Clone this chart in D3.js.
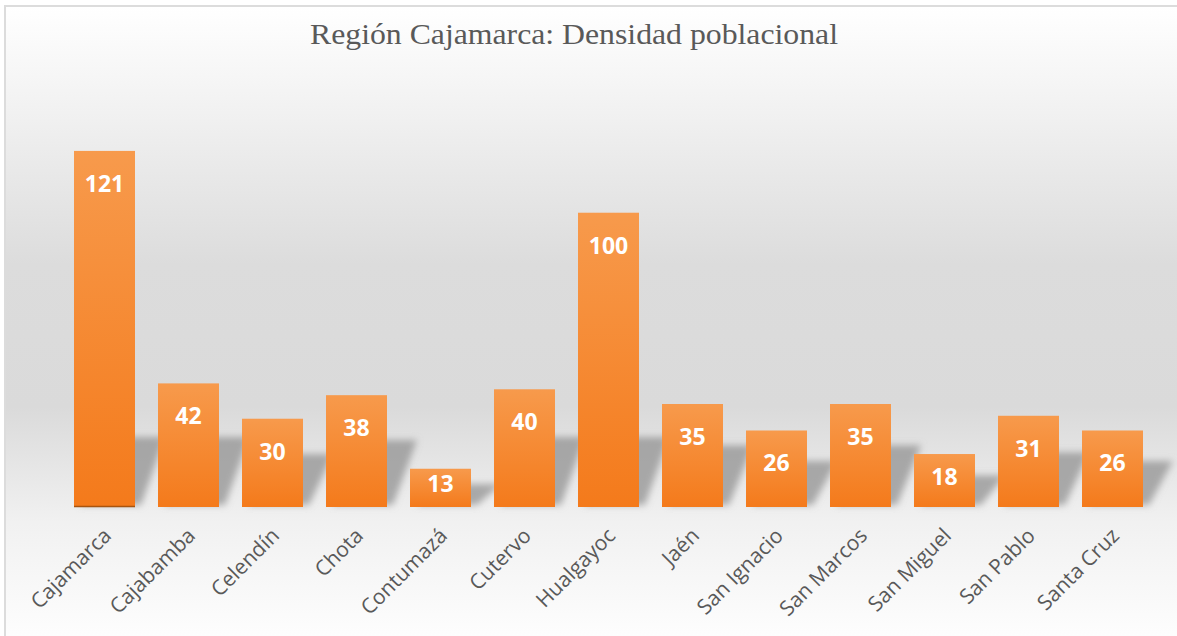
<!DOCTYPE html>
<html>
<head>
<meta charset="utf-8">
<script src="https://cdn.jsdelivr.net/npm/d3@7"></script>
<style>
  body { margin: 0; background: #fff; }
</style>
</head>
<body>
<script>
const provincias = ["Cajamarca", "Cajabamba", "Celendín", "Chota", "Contumazá", "Cutervo",
  "Hualgayoc", "Jaén", "San Ignacio", "San Marcos", "San Miguel", "San Pablo", "Santa Cruz"];
const densidad = [121, 42, 30, 38, 13, 40, 100, 35, 26, 35, 18, 31, 26];
const titulo = "Región Cajamarca: Densidad poblacional";

function main() {
    const W = 1177, H = 636;
    const data = provincias.map((p, i) => ({ name: p, value: densidad[i] }));

    let svg = d3.select("body").append("svg")
        .attr("width", W)
        .attr("height", H);

    let defs = svg.append("defs");

    // background gradient: white -> grey -> white
    let bg = defs.append("linearGradient").attr("id", "bg")
        .attr("x1", 0).attr("y1", 0).attr("x2", 0).attr("y2", 1);
    [[0, "#ffffff"], [0.12, "#f5f5f5"], [0.4, "#dcdcdc"], [0.62, "#dadada"], [0.8, "#f1f1f1"], [1, "#ffffff"]]
        .forEach(s => bg.append("stop").attr("offset", s[0]).attr("stop-color", s[1]));

    let barGrad = defs.append("linearGradient").attr("id", "bar")
        .attr("x1", 0).attr("y1", 0).attr("x2", 0).attr("y2", 1);
    barGrad.append("stop").attr("offset", 0).attr("stop-color", "#f79a4c");
    barGrad.append("stop").attr("offset", 1).attr("stop-color", "#f47a1b");

    defs.append("filter").attr("id", "blur")
        .attr("x", "-50%").attr("y", "-50%").attr("width", "200%").attr("height", "200%")
        .append("feGaussianBlur").attr("stdDeviation", 3.5);

    svg.append("rect")
        .attr("x", 5).attr("y", 6)
        .attr("width", W + 10).attr("height", H + 10)
        .attr("fill", "url(#bg)")
        .attr("stroke", "#dcdcdc")
        .attr("stroke-width", 2);

    svg.append("text")
        .attr("x", 574)
        .attr("y", 44)
        .attr("text-anchor", "middle")
        .attr("textLength", 528)
        .attr("lengthAdjust", "spacingAndGlyphs")
        .style("font-family", "'Liberation Serif', 'Times New Roman', serif")
        .style("font-size", "30px")
        .style("fill", "#595959")
        .text(titulo);

    let xScale = d3.scaleBand().domain(provincias).range([62.5, 1154.5]).paddingInner(0.274).paddingOuter(0.137);
    let yScale = d3.scaleLinear().domain([0, 140]).range([507, 95]);

    // shadows
    svg.append("g").attr("filter", "url(#blur)")
        .selectAll("path")
        .data(data)
        .enter()
        .append("path")
        .attr("d", function(d) {
            let x0 = xScale(d.name), x1 = x0 + xScale.bandwidth();
            let y0 = yScale(0);
            let h = y0 - yScale(d.value);
            let sh = Math.min(h * 0.6, 70);
            return `M${x0 + 6},${y0 - 2} L${x1 + 6},${y0 - 2} L${x1 + 30},${y0 - sh} L${x0 + 30},${y0 - sh} Z`;
        })
        .attr("fill", "#8c8c8c")
        .attr("opacity", 0.7);

    svg.append("g")
        .selectAll("rect")
        .data(data)
        .enter()
        .append("rect")
        .attr("x", d => xScale(d.name))
        .attr("y", d => yScale(d.value))
        .attr("width", xScale.bandwidth())
        .attr("height", d => yScale(0) - yScale(d.value))
        .attr("fill", "url(#bar)");

    // dark base line under first bar
    svg.append("line")
        .attr("x1", xScale(provincias[0]))
        .attr("x2", xScale(provincias[0]) + xScale.bandwidth())
        .attr("y1", yScale(0) - 0.5).attr("y2", yScale(0) - 0.5)
        .attr("stroke", "#a8540f").attr("stroke-width", 1.5);

    svg.append("g")
        .selectAll("text")
        .data(data)
        .enter()
        .append("text")
        .attr("x", d => xScale(d.name) + xScale.bandwidth() / 2)
        .attr("y", function(d) {
            let top = yScale(d.value), mid = (top + yScale(0)) / 2;
            return Math.min(top + 32, mid - 5);
        })
        .attr("dominant-baseline", "central")
        .attr("text-anchor", "middle")
        .style("font-family", "'Open Sans', sans-serif")
        .style("font-weight", "bold")
        .style("font-size", "23px")
        .style("fill", "#ffffff")
        .text(d => d.value);

    let xAxis = d3.axisBottom(xScale).tickSize(0).tickPadding(0);
    let gx = svg.append("g")
        .attr("transform", `translate(0,${yScale(0)})`)
        .call(xAxis);
    gx.select(".domain").remove();
    gx.selectAll("text")
        .attr("text-anchor", "end")
        .attr("dy", null)
        .attr("y", null)
        .attr("transform", "translate(8,30) rotate(-45)")
        .style("font-family", "'Open Sans', sans-serif")
        .style("font-size", "21px")
        .style("fill", "#595959");
}

main()
</script>
</body>
</html>
